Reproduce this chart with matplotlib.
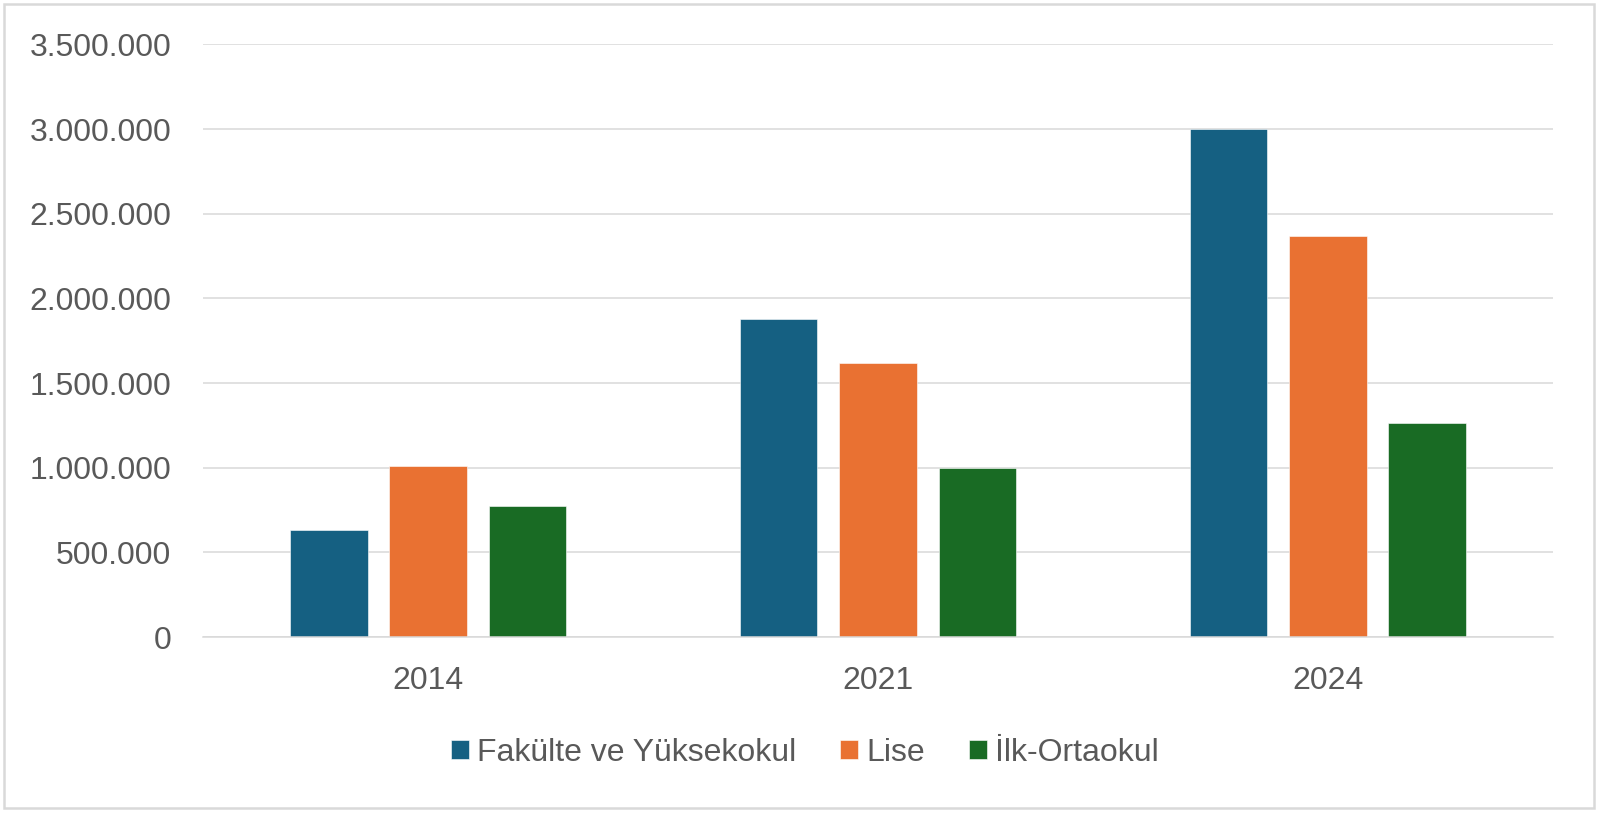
import matplotlib
matplotlib.use("Agg")
import matplotlib.pyplot as plt
import numpy as np
from matplotlib.patches import Rectangle
from matplotlib.ticker import FuncFormatter, MultipleLocator

# data
years = ["2014", "2021", "2024"]
series = ["Fakülte ve Yüksekokul", "Lise", "İlk-Ortaokul"]
fakulte = [631000, 1877000, 3000000]
lise = [1011000, 1616000, 2371000]
ilk_orta = [775000, 1000000, 1261000]
colors = ["#156082", "#E97132", "#196B24"]

plt.rcParams["font.family"] = ["Liberation Sans", "DejaVu Sans"]
text_color = "#595959"
grid_color = "#D9D9D9"

fig = plt.figure(figsize=(16, 8.15), dpi=100)
ax = fig.add_axes([0.1269, 0.2184, 0.8437, 0.7272])

x = np.arange(len(years))
width = 0.173
step = 0.221
for i, (name, vals) in enumerate(zip(series, [fakulte, lise, ilk_orta])):
    ax.bar(x + (i - 1) * step, vals, width, color=colors[i], label=name,
           edgecolor="white", linewidth=0.4, zorder=3)

ax.set_xlim(-0.5, 2.5)
ax.set_ylim(0, 3500000)
ax.yaxis.set_major_locator(MultipleLocator(500000))
ax.yaxis.set_major_formatter(FuncFormatter(lambda v, p: f"{int(v):,}".replace(",", ".")))
ax.set_xticks(x)
ax.set_xticklabels(years)

ax.grid(axis="y", color=grid_color, linewidth=1.1, zorder=0)
for side in ["top", "right", "left"]:
    ax.spines[side].set_visible(False)
ax.spines["bottom"].set_color(grid_color)
ax.spines["bottom"].set_linewidth(1.1)
ax.spines["bottom"].set_zorder(4)

ax.tick_params(axis="both", length=0, labelsize=23, colors=text_color)
ax.tick_params(axis="y", pad=23)
ax.tick_params(axis="x", pad=21)

fig.legend(loc="center", bbox_to_anchor=(0.503, 0.076), ncol=3, frameon=False,
           fontsize=23, labelcolor=text_color, handlelength=0.56, handleheight=0.56,
           handletextpad=0.25, columnspacing=1.375)

# light frame around the whole chart
fig.patches.append(Rectangle((4 / 1600, 7 / 815), 1590 / 1600, 804 / 815,
                             transform=fig.transFigure, fill=False,
                             edgecolor=grid_color, linewidth=1.8))

fig.savefig("out.png", dpi=100, facecolor="white")
